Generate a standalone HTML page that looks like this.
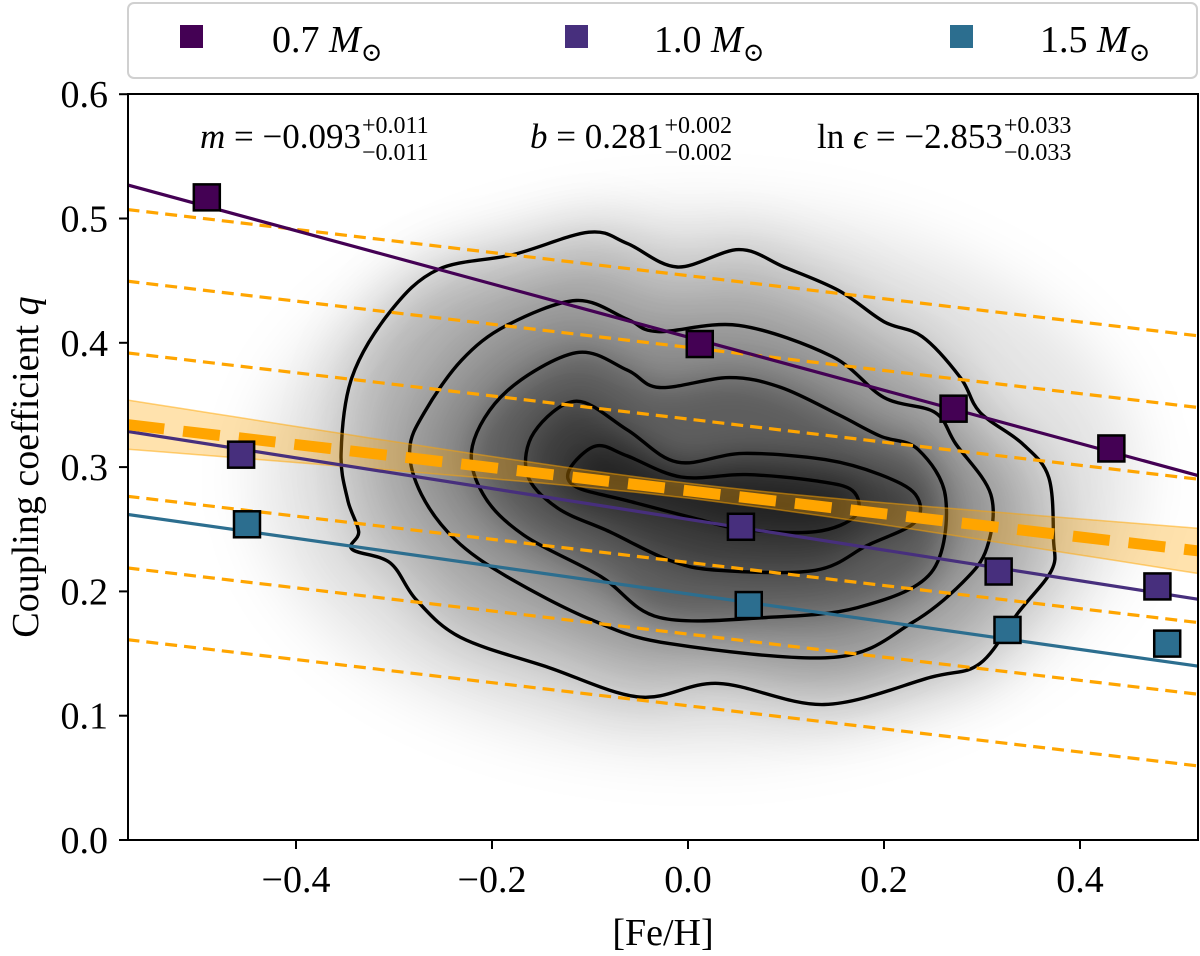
<!DOCTYPE html>
<html><head><meta charset="utf-8">
<style>
html,body{margin:0;padding:0;background:#fff;}
svg{display:block;font-family:"Liberation Serif","DejaVu Serif",serif;}
</style></head>
<body>
<svg id="chart" width="1200" height="956" viewBox="0 0 1200 956" xmlns="http://www.w3.org/2000/svg">
<defs>
<clipPath id="plotclip"><rect x="128" y="94" width="1070" height="746"/></clipPath>
<filter id="blur1" x="-50%" y="-50%" width="200%" height="200%"><feGaussianBlur stdDeviation="30"/></filter>
<filter id="blur2" x="-50%" y="-50%" width="200%" height="200%"><feGaussianBlur stdDeviation="16"/></filter>
</defs>
<g id="density" clip-path="url(#plotclip)"></g>
<g id="contours" clip-path="url(#plotclip)"></g>
<g id="lines" clip-path="url(#plotclip)"></g>
<g id="points"></g>
<rect x="128" y="94" width="1070" height="746" fill="none" stroke="#000" stroke-width="2"/>
<g id="axes"></g>
<g font-size="35">
  <text id="tm" x="200" y="148"><tspan font-style="italic">m</tspan> = −0.093</text>
  <text id="tm1" x="352" y="133" font-size="24">+0.011</text><text id="tm2" x="352" y="160" font-size="24">−0.011</text>
  <text id="tb" x="530" y="148"><tspan font-style="italic">b</tspan> = 0.281</text>
  <text id="tb1" x="663" y="133" font-size="24">+0.002</text><text id="tb2" x="663" y="160" font-size="24">−0.002</text>
  <text id="tl" x="817" y="148">ln <tspan font-style="italic">ϵ</tspan> = −2.853</text>
  <text id="tl1" x="1018" y="133" font-size="24">+0.033</text><text id="tl2" x="1018" y="160" font-size="24">−0.033</text>
</g>
<g>
  <rect x="128" y="3" width="1069" height="75" rx="6" fill="#fff" stroke="#d0d0d0" stroke-width="2"/>
  <g>
    <rect x="180" y="25" width="23" height="23" fill="#440154"/>
    <text x="272" y="52" font-size="38">0.7 <tspan font-style="italic">M</tspan><tspan font-size="26" dy="9">⊙</tspan></text>
  </g>
  <g>
    <rect x="565" y="25" width="23" height="23" fill="#472f7d"/>
    <text x="654" y="52" font-size="38">1.0 <tspan font-style="italic">M</tspan><tspan font-size="26" dy="9">⊙</tspan></text>
  </g>
  <g>
    <rect x="950" y="25" width="23" height="23" fill="#2c6e8f"/>
    <text x="1040" y="52" font-size="38">1.5 <tspan font-style="italic">M</tspan><tspan font-size="26" dy="9">⊙</tspan></text>
  </g>
</g>
<text x="663" y="945" font-size="38" text-anchor="middle">[Fe/H]</text>
<text transform="translate(38,467) rotate(-90)" font-size="38" text-anchor="middle">Coupling coefficient <tspan font-style="italic">q</tspan></text>
</svg>
<script>
const xTicks = [-0.4, -0.2, 0.0, 0.2, 0.4];
const yTicks = [0.0, 0.1, 0.2, 0.3, 0.4, 0.5, 0.6];
const masses = ["0.7", "1.0", "1.5"];
const colors = ["#440154", "#472f7d", "#2c6e8f"];
const feh07 = [-0.491, 0.012, 0.271, 0.432];
const q07 = [0.517, 0.399, 0.347, 0.315];
const feh10 = [-0.456, 0.054, 0.317, 0.479];
const q10 = [0.310, 0.252, 0.216, 0.204];
const feh15 = [-0.450, 0.062, 0.326, 0.489];
const q15 = [0.254, 0.189, 0.169, 0.158];
const lineSlopes = [-0.214, -0.1236, -0.1117];
const lineIntercepts = [0.4046, 0.258, 0.198];
const fitM = -0.093, fitB = 0.281, fitMerr = 0.011, fitBerr = 0.002, lnEps = -2.853;
const scatterK = [-3, -2, -1, 1, 2, 3];
const contour1 = [[-0.101,0.489],[-0.178,0.471],[-0.255,0.459],[-0.304,0.425],[-0.343,0.372],[-0.354,0.311],[-0.347,0.273],[-0.336,0.248],[-0.343,0.234],[-0.304,0.223],[-0.277,0.193],[-0.232,0.163],[-0.143,0.139],[-0.049,0.115],[0.031,0.126],[0.139,0.109],[0.248,0.131],[0.298,0.142],[0.337,0.183],[0.371,0.217],[0.373,0.242],[0.368,0.292],[0.341,0.319],[0.298,0.344],[0.278,0.372],[0.239,0.405],[0.200,0.417],[0.154,0.442],[0.098,0.461],[0.052,0.475],[-0.011,0.461],[-0.062,0.480]];
const contour2 = [[-0.114,0.434],[-0.185,0.414],[-0.231,0.386],[-0.269,0.344],[-0.284,0.314],[-0.272,0.278],[-0.238,0.242],[-0.185,0.212],[-0.098,0.177],[-0.019,0.158],[0.149,0.147],[0.229,0.175],[0.280,0.207],[0.305,0.235],[0.309,0.278],[0.273,0.319],[0.252,0.344],[0.200,0.356],[0.147,0.389],[0.052,0.414],[-0.031,0.409],[-0.062,0.419]];
const contour3 = [[-0.114,0.392],[-0.185,0.361],[-0.220,0.317],[-0.209,0.278],[-0.167,0.245],[-0.089,0.212],[-0.029,0.179],[0.080,0.179],[0.173,0.187],[0.248,0.215],[0.263,0.275],[0.235,0.314],[0.196,0.325],[0.154,0.342],[0.095,0.364],[0.042,0.372],[-0.029,0.364],[-0.062,0.378]];
const contour4 = [[-0.114,0.353],[-0.157,0.328],[-0.164,0.294],[-0.133,0.267],[-0.080,0.248],[-0.019,0.225],[0.031,0.217],[0.130,0.217],[0.183,0.237],[0.232,0.256],[0.232,0.278],[0.196,0.294],[0.140,0.306],[0.056,0.311],[-0.011,0.304],[-0.062,0.330]];
const contour5 = [[-0.094,0.317],[-0.121,0.298],[-0.114,0.284],[-0.062,0.273],[0.006,0.259],[0.056,0.250],[0.130,0.248],[0.171,0.261],[0.168,0.281],[0.130,0.289],[0.059,0.294],[-0.007,0.292],[-0.062,0.309]];

const X0 = 688, XS = 980, Y0 = 840, YS = 1243;
const XMIN = -0.572, XMAX = 0.52;
function sx(v){ return X0 + v*XS; }
function sy(v){ return Y0 - v*YS; }
const NS = "http://www.w3.org/2000/svg";
function mk(tag, parent, attrs){
  const e = document.createElementNS(NS, tag);
  for (const k in attrs) e.setAttribute(k, attrs[k]);
  parent.appendChild(e);
  return e;
}
function smoothPath(pts){
  const p = pts.map(d => [sx(d[0]), sy(d[1])]);
  const n = p.length;
  let s = "M" + p[0][0].toFixed(1) + "," + p[0][1].toFixed(1);
  for (let i = 0; i < n; i++){
    const p0 = p[(i-1+n)%n], p1 = p[i], p2 = p[(i+1)%n], p3 = p[(i+2)%n];
    const c1 = [p1[0]+(p2[0]-p0[0])/6, p1[1]+(p2[1]-p0[1])/6];
    const c2 = [p2[0]-(p3[0]-p1[0])/6, p2[1]-(p3[1]-p1[1])/6];
    s += "C"+c1[0].toFixed(1)+","+c1[1].toFixed(1)+" "+c2[0].toFixed(1)+","+c2[1].toFixed(1)+" "+p2[0].toFixed(1)+","+p2[1].toFixed(1);
  }
  return s + "Z";
}
const contours = [contour1, contour2, contour3, contour4, contour5];

// annotation superscripts placed right after main text
[["tm","tm1","tm2"],["tb","tb1","tb2"],["tl","tl1","tl2"]].forEach(ids => {
  const t = document.getElementById(ids[0]);
  const end = parseFloat(t.getAttribute("x")) + t.getComputedTextLength() + 1;
  document.getElementById(ids[1]).setAttribute("x", end);
  document.getElementById(ids[2]).setAttribute("x", end);
});

// density
const dens = document.getElementById("density");
const halo = mk("ellipse", dens, {cx: sx(0.01), cy: sy(0.29), rx: 440, ry: 270, fill: "#000", "fill-opacity": 0.1, filter: "url(#blur1)"});


const dOp = [0.22, 0.25, 0.3, 0.35, 0.45];
contours.forEach((c, i) => {
  const el = mk("path", dens, {d: smoothPath(c), fill: "#000", "fill-opacity": dOp[i], filter: i < 2 ? "url(#blur1)" : "url(#blur2)"});
  
  
});

// contours
const cg = document.getElementById("contours");
contours.forEach((c, i) => {
  const el = mk("path", cg, {d: smoothPath(c), fill: "none", stroke: "#000", "stroke-width": 3.4});
  
  
});

// lines
const lg = document.getElementById("lines");
const eps = Math.exp(lnEps);
scatterK.forEach(k => {
  const b = fitB + k*eps;
  const el = mk("line", lg, {x1: sx(XMIN), y1: sy(b + fitM*XMIN), x2: sx(XMAX), y2: sy(b + fitM*XMAX), stroke: "#ffa500", "stroke-width": 3.2, "stroke-dasharray": "12,7"});
  
  
});
let up = [], lo = [];
for (let i = 0; i <= 40; i++){
  const x = XMIN + (XMAX - XMIN)*i/40;
  const s = 3*Math.sqrt(fitBerr*fitBerr + (fitMerr*x)*(fitMerr*x));
  const y = fitB + fitM*x;
  up.push(sx(x).toFixed(1)+","+sy(y+s).toFixed(1));
  lo.unshift(sx(x).toFixed(1)+","+sy(y-s).toFixed(1));
}
const band = mk("polygon", lg, {points: up.concat(lo).join(" "), fill: "#ffa500", "fill-opacity": 0.32, stroke: "#ffa500", "stroke-opacity": 0.5, "stroke-width": 1.5});


masses.forEach((m, i) => {
  const el = mk("line", lg, {x1: sx(XMIN), y1: sy(lineIntercepts[i] + lineSlopes[i]*XMIN), x2: sx(XMAX), y2: sy(lineIntercepts[i] + lineSlopes[i]*XMAX), stroke: colors[i], "stroke-width": 3.2});
  
  
});
const main = mk("line", lg, {x1: sx(XMIN), y1: sy(fitB + fitM*XMIN), x2: sx(XMAX), y2: sy(fitB + fitM*XMAX), stroke: "#ffa500", "stroke-width": 11, "stroke-dasharray": "37,19"});



// points
const pg = document.getElementById("points");
const fehs = [feh07, feh10, feh15], qs = [q07, q10, q15];
masses.forEach((m, i) => {
  fehs[i].forEach((x, j) => {
    const el = mk("rect", pg, {x: sx(x) - 13, y: sy(qs[i][j]) - 13, width: 26, height: 26, fill: colors[i], stroke: "#000", "stroke-width": 2.5});
    
    
  });
});

// axes
const ag = document.getElementById("axes");
xTicks.forEach(t => {
  const tk = mk("line", ag, {x1: sx(t), y1: 840, x2: sx(t), y2: 849, stroke: "#000", "stroke-width": 2});
  
  
  const lb = mk("text", ag, {x: sx(t), y: 892, "font-size": 38, "text-anchor": "middle"});
  lb.textContent = (t < 0 ? "−" : "") + Math.abs(t).toFixed(1);
  
  
});
yTicks.forEach(t => {
  const tk = mk("line", ag, {x1: 119, y1: sy(t), x2: 128, y2: sy(t), stroke: "#000", "stroke-width": 2});
  
  
  const lb = mk("text", ag, {x: 108, y: sy(t) + 13, "font-size": 38, "text-anchor": "end"});
  lb.textContent = t.toFixed(1);
  
  
});
</script>
</body></html>
